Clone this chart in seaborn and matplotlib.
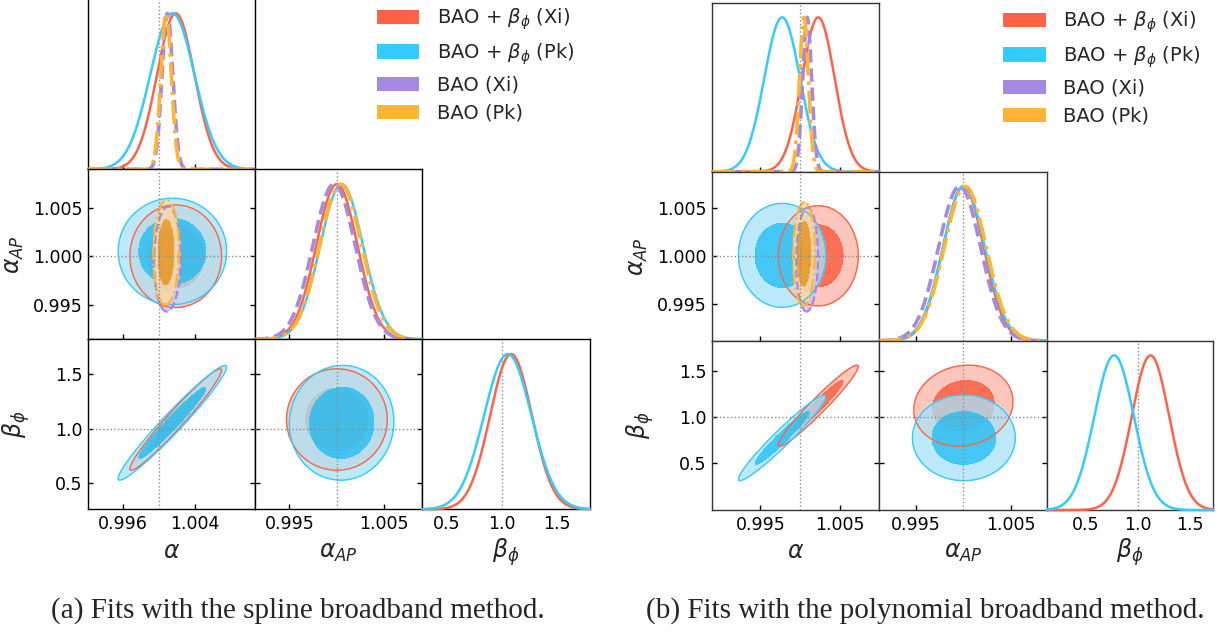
import numpy as np
import pandas as pd
import matplotlib
matplotlib.use("Agg")
import matplotlib.pyplot as plt
import seaborn as sns
from matplotlib.patches import Patch

sns.set_theme(style="white")
plt.rcParams["font.family"] = ["DejaVu Sans"]
plt.rcParams["mathtext.fontset"] = "dejavusans"

W, H = 1222, 634
fig = plt.figure(figsize=(W / 100, H / 100), dpi=100)

# ---------------------------------------------------------------- data
series_labels = [r"BAO + $\beta_\phi$ (Xi)", r"BAO + $\beta_\phi$ (Pk)", "BAO (Xi)", "BAO (Pk)"]
series_colors = ["#FF6347", "#33CCFF", "#A689E1", "#FFB533"]
series_light = ["#FFB4A6", "#A6E4FA", "#D3C4F0", "#F5D9A6"]
series_dark = ["#FF6347", "#33C4F5", "#A689E1", "#E9A030"]
series_styles = ["-", "-", "--", "-."]
param_labels = [r"$\alpha$", r"$\alpha_{AP}$", r"$\beta_\phi$"]

# spline broadband fits (Xi+beta, Pk+beta, Xi, Pk); beta not fitted for the last two
spline_mean_alpha = [1.00187, 1.00150, 1.00095, 1.00080]
spline_mean_alpha_ap = [1.00000, 1.00050, 0.99970, 1.00040]
spline_mean_beta = [1.085, 1.055, np.nan, np.nan]
spline_sigma_alpha = [0.00207, 0.00245, 0.00060, 0.00058]
spline_sigma_alpha_ap = [0.00217, 0.00225, 0.00222, 0.00222]
spline_sigma_beta = [0.190, 0.215, np.nan, np.nan]
spline_rho_alpha_alpha_ap = [0.00, 0.00, 0.05, 0.05]
spline_rho_alpha_beta = [0.970, 0.970, np.nan, np.nan]
spline_rho_alpha_ap_beta = [0.00, 0.02, np.nan, np.nan]

# polynomial broadband fits
poly_mean_alpha = [1.00230, 0.99775, 1.00090, 1.00050]
poly_mean_alpha_ap = [1.00000, 1.00005, 0.99960, 1.00020]
poly_mean_beta = [1.120, 0.770, np.nan, np.nan]
poly_sigma_alpha = [0.00206, 0.00225, 0.00056, 0.00056]
poly_sigma_alpha_ap = [0.00214, 0.00222, 0.00222, 0.00222]
poly_sigma_beta = [0.180, 0.190, np.nan, np.nan]
poly_rho_alpha_alpha_ap = [0.00, 0.00, 0.05, 0.05]
poly_rho_alpha_beta = [0.965, 0.965, np.nan, np.nan]
poly_rho_alpha_ap_beta = [0.10, 0.00, np.nan, np.nan]

fiducial = [1.0, 1.0, 1.0]

spline_limits = [(0.99220, 1.01067), (0.99140, 1.00900), (0.278, 1.803)]
spline_beta_ylim = (0.2615, 1.821)
poly_limits = [(0.98895, 1.00999), (0.99112, 1.00880), (0.122, 1.724)]
poly_beta_ylim = (-0.014, 1.826)

spline_ticks = [[0.996, 1.004], [0.995, 1.005], [0.5, 1.0, 1.5]]
spline_yticks = [None, [0.995, 1.000, 1.005], [0.5, 1.0, 1.5]]
poly_ticks = [[0.995, 1.005], [0.995, 1.005], [0.5, 1.0, 1.5]]
poly_yticks = [None, [0.995, 1.000, 1.005], [0.5, 1.0, 1.5]]
tick_formats = ["{:.3f}", "{:.3f}", "{:.1f}"]

captions = ["(a) Fits with the spline broadband method.",
            "(b) Fits with the polynomial broadband method."]

CHI2_68, CHI2_95 = 2.2958, 5.9915
LIGHT_ALPHA = [0.75, 0.75, 0.9, 0.9]
DARK_ALPHA = [0.92, 0.92, 0.95, 0.95]
YLABEL_X = [None, -0.375, -0.335]


def px_axes(x0, x1, y0, y1):
    return fig.add_axes([x0 / W, 1 - y1 / H, (x1 - x0) / W, (y1 - y0) / H])


def corner(cols, rows, means, sigmas, rhos, limits, beta_ylim, xticks, yticks,
           spine_color, legend_xy, caption, caption_x):
    n = 3
    axes = {}
    for i in range(n):
        for j in range(i + 1):
            ax = px_axes(cols[j], cols[j + 1], rows[i], rows[i + 1])
            axes[(i, j)] = ax
            for s in ax.spines.values():
                s.set_color(spine_color)
                s.set_linewidth(1.0)
            ax.set_facecolor("white")
            ax.set_xlim(*limits[j])
            ax.tick_params(direction="in", length=3.5, width=1.0, colors="black",
                           labelsize=12.5, bottom=True, top=False, left=(i != j),
                           right=(i != j), pad=4)
            ax.set_xticks(xticks[j])
            if i == n - 1:
                ax.set_xticklabels([tick_formats[j].format(t) for t in xticks[j]])
            else:
                ax.set_xticklabels([])
            if i == j:
                ax.set_yticks([])
                ax.set_ylim(0, 1.095)
                ax.axvline(fiducial[j], color="#8c8c8c", ls=":", lw=1.0, zorder=1)
                if j == n - 1:
                    ax.tick_params(bottom=False)
            else:
                ax.set_ylim(*(beta_ylim if i == 2 else limits[i]))
                ax.set_yticks(yticks[i])
                if j == 0:
                    ax.set_yticklabels([tick_formats[i].format(t) for t in yticks[i]])
                else:
                    ax.set_yticklabels([])
                ax.axvline(fiducial[j], color="#8c8c8c", ls=":", lw=1.0, zorder=20)
                ax.axhline(fiducial[i], color="#8c8c8c", ls=":", lw=1.0, zorder=20)

    # 1D marginals
    for j in range(n):
        ax = axes[(j, j)]
        grid = np.linspace(*limits[j], 600)
        for k in range(4):
            mu, sd = means[j][k], sigmas[j][k]
            if np.isnan(mu):
                continue
            dens = np.exp(-0.5 * ((grid - mu) / sd) ** 2)
            frame = pd.DataFrame({"x": grid, "p": dens})
            lw = 1.8 if k < 2 else 2.6
            sns.lineplot(data=frame, x="x", y="p", ax=ax, color=series_colors[k],
                         linestyle=series_styles[k], linewidth=lw, zorder=3 + k,
                         clip_on=False)
        ax.set_xlabel("")
        ax.set_ylabel("")

    # 2D contours
    pair_rho = {(1, 0): rhos[0], (2, 0): rhos[1], (2, 1): rhos[2]}
    for (i, j), rho_list in pair_rho.items():
        ax = axes[(i, j)]
        ylim = beta_ylim if i == 2 else limits[i]
        gx = np.linspace(*limits[j], 300)
        gy = np.linspace(*ylim, 300)
        X, Y = np.meshgrid(gx, gy)
        for k in range(4):
            if np.isnan(means[i][k]) or np.isnan(means[j][k]):
                continue
            u = (X - means[j][k]) / sigmas[j][k]
            v = (Y - means[i][k]) / sigmas[i][k]
            r = rho_list[k]
            d2 = (u * u - 2 * r * u * v + v * v) / (1 - r * r)
            ax.contourf(X, Y, d2, levels=[CHI2_68, CHI2_95], colors=[series_light[k]],
                        alpha=LIGHT_ALPHA[k], zorder=2 + k)
            ax.contourf(X, Y, d2, levels=[0, CHI2_68], colors=[series_dark[k]],
                        alpha=DARK_ALPHA[k], zorder=2 + k)
            ax.contour(X, Y, d2, levels=[CHI2_95], colors=[series_colors[k]],
                       linewidths=1.0 if k < 2 else 1.6,
                       linestyles=series_styles[k], zorder=10 + k)

    # axis labels on the outer panels
    for j in range(n):
        ax = axes[(n - 1, j)]
        ax.set_xlabel(param_labels[j], fontsize=17)
        ax.xaxis.set_label_coords(0.5, -0.285)
        ax.xaxis.label.set_va("baseline")
    for i in range(1, n):
        ax = axes[(i, 0)]
        ax.set_ylabel(param_labels[i], fontsize=17)
        ax.yaxis.set_label_coords(YLABEL_X[i], 0.5)

    handles = [Patch(facecolor=c, edgecolor="none") for c in series_colors]
    fig.legend(handles, series_labels, loc="upper left",
               bbox_to_anchor=(legend_xy[0] / W, 1 - legend_xy[1] / H),
               frameon=False, fontsize=14, handlelength=2.2, handleheight=0.78,
               handletextpad=0.9, labelspacing=0.47, borderaxespad=0, borderpad=0)
    fig.text(caption_x / W, 1 - 611 / H, caption, ha="center", va="center",
             family="Liberation Serif", fontsize=21)
    return axes


spline_means = [spline_mean_alpha, spline_mean_alpha_ap, spline_mean_beta]
spline_sigmas = [spline_sigma_alpha, spline_sigma_alpha_ap, spline_sigma_beta]
spline_rhos = [spline_rho_alpha_alpha_ap, spline_rho_alpha_beta, spline_rho_alpha_ap_beta]
poly_means = [poly_mean_alpha, poly_mean_alpha_ap, poly_mean_beta]
poly_sigmas = [poly_sigma_alpha, poly_sigma_alpha_ap, poly_sigma_beta]
poly_rhos = [poly_rho_alpha_alpha_ap, poly_rho_alpha_beta, poly_rho_alpha_ap_beta]

corner([88.3, 255.3, 422.3, 590.0], [-1.5, 169.3, 339.3, 509.3],
       spline_means, spline_sigmas, spline_rhos, spline_limits, spline_beta_ylim,
       spline_ticks, spline_yticks, "black",
       (376.7, 6.5), captions[0], 297.5)
corner([712.3, 879.3, 1046.7, 1213.3], [2.7, 171.7, 340.7, 510.0],
       poly_means, poly_sigmas, poly_rhos, poly_limits, poly_beta_ylim,
       poly_ticks, poly_yticks, "#333333",
       (1003.0, 9.5), captions[1], 925.0)

fig.savefig("out.png", dpi=100)
